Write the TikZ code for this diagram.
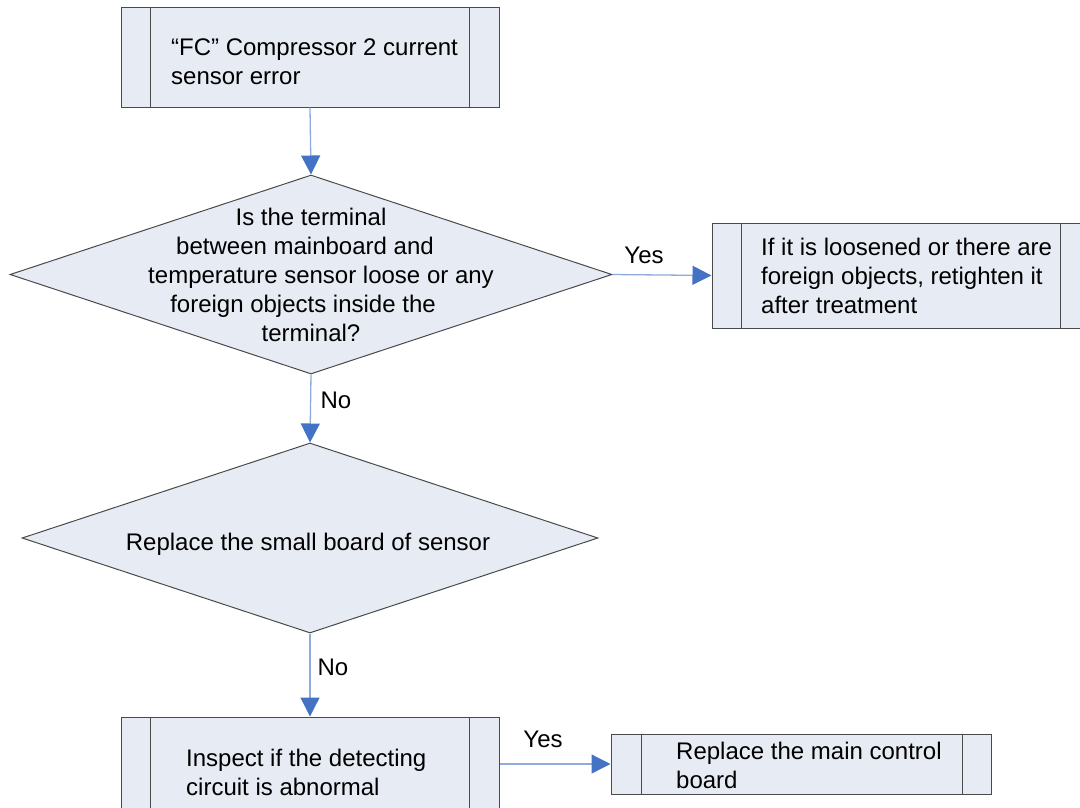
\documentclass[tikz,border=0pt]{standalone}
\usepackage{fontspec}
\setmainfont{Liberation Sans}
\usetikzlibrary{arrows.meta,shapes.geometric}
\definecolor{boxfill}{HTML}{E7EBF4}
\definecolor{boxline}{HTML}{4A4A4A}
\definecolor{linkline}{HTML}{8FAADC}
\definecolor{headblue}{HTML}{4472C4}
\tikzset{
  proc/.style={draw=boxline, fill=boxfill, line width=1pt, rectangle, inner sep=0pt},
  decide/.style={draw=boxline, fill=boxfill, line width=1pt, diamond, inner sep=0pt},
  txt/.style={inner sep=0pt, align=left, font=\fontsize{24}{29}\selectfont},
  ctxt/.style={inner sep=0pt, align=center, font=\fontsize{24}{29}\selectfont},
  lbl/.style={inner sep=0pt, font=\fontsize{24}{29}\selectfont},
  link/.style={draw=linkline, line width=1.3pt, -{Triangle[width=19pt,length=19pt,color=headblue]}},
}
\begin{document}
\begin{tikzpicture}[x=1pt,y=-1pt]
\useasboundingbox (0,0) rectangle (1080,807);
\clip (0,0) rectangle (1080,807);
% boxes
\node[proc, minimum width=378pt, minimum height=100pt] (b1) at (310,57) {};
\draw[boxline, line width=1pt] ([xshift=30pt]b1.north west) -- ([xshift=30pt]b1.south west)
  ([xshift=-30pt]b1.north east) -- ([xshift=-30pt]b1.south east);
\node[txt, anchor=west] (t1) at (171,62) {“FC” Compressor 2 current\\sensor error};

\node[decide, minimum width=602pt, minimum height=199pt] (d1) at (311,274.5) {};
\node[ctxt] (t2) at (311,275) {Is the terminal\\between mainboard and\kern12pt\\\kern20pt temperature sensor loose or any\\foreign objects inside the\kern16pt\\terminal?};

\node[proc, minimum width=378pt, minimum height=105pt] (b2) at (901,275.5) {};
\draw[boxline, line width=1pt] ([xshift=30pt]b2.north west) -- ([xshift=30pt]b2.south west)
  ([xshift=-30pt]b2.north east) -- ([xshift=-30pt]b2.south east);
\node[txt, anchor=west] (t3) at (761,276) {If it is loosened or there are\\foreign objects, retighten it\\after treatment};

\node[decide, minimum width=576pt, minimum height=190pt] (d2) at (310,538) {};
\node[ctxt] (t4) at (308,544) {Replace the small board of sensor};

\node[proc, minimum width=378pt, minimum height=100pt] (b3) at (310,767) {};
\draw[boxline, line width=1pt] ([xshift=30pt]b3.north west) -- ([xshift=30pt]b3.south west)
  ([xshift=-30pt]b3.north east) -- ([xshift=-30pt]b3.south east);
\node[txt, anchor=west] (t5) at (186,772) {Inspect if the detecting\\circuit is abnormal};

\node[proc, minimum width=380pt, minimum height=60pt] (b4) at (801,764) {};
\draw[boxline, line width=1pt] ([xshift=31pt]b4.north west) -- ([xshift=31pt]b4.south west)
  ([xshift=-29pt]b4.north east) -- ([xshift=-29pt]b4.south east);
\node[txt, anchor=west] (t6) at (676,765) {Replace the main control\\board};

% connectors
\draw[link] (b1.south) -- (d1.north);
\draw[link] (d1.east) -- (b2.west);
\draw[link] (d1.south) -- (d2.north);
\draw[link] (d2.south) -- (b3.north);
\draw[link] (b3.east |- b4.west) -- (b4.west);

% labels
\node[lbl] (y1) at (644,255) {Yes};
\node[lbl] (n1) at (336,400) {No};
\node[lbl] (n2) at (333,667) {No};
\node[lbl] (y2) at (543,739) {Yes};
\end{tikzpicture}
\end{document}
